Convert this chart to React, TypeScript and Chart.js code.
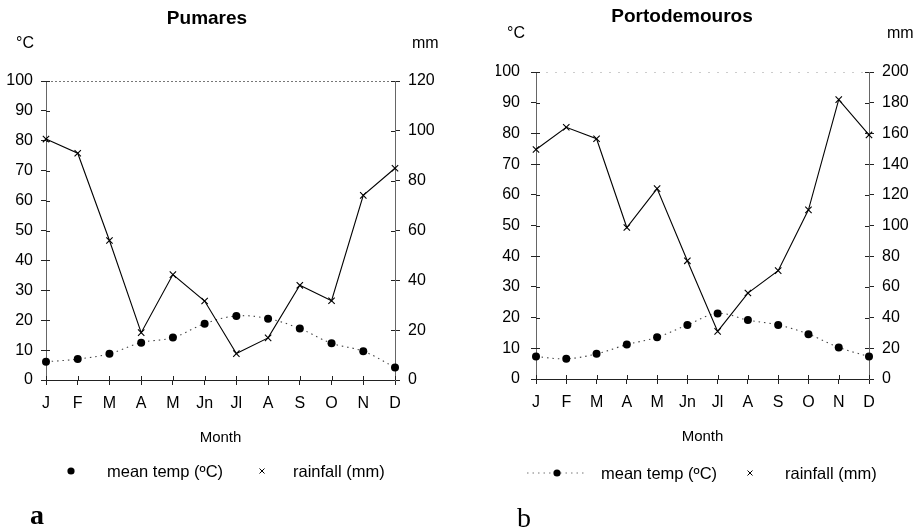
import React, { useEffect, useRef } from 'react';
import { Chart, registerables } from 'chart.js';

Chart.register(...registerables);

// ---------- DATA ----------
const months = ['J', 'F', 'M', 'A', 'M', 'Jn', 'Jl', 'A', 'S', 'O', 'N', 'D'];

const pumaresTemp = [6.1, 7.0, 8.8, 12.5, 14.2, 18.8, 21.4, 20.5, 17.2, 12.3, 9.6, 4.2];
const pumaresRain = [96.7, 91, 56, 19, 42.3, 31.7, 10.6, 16.9, 38, 31.8, 74.1, 85];

const portoTemp = [7.3, 6.6, 8.2, 11.2, 13.6, 17.6, 21.3, 19.2, 17.6, 14.6, 10.3, 7.3];
const portoRain = [149.5, 164, 156.5, 98.7, 124, 77, 31, 56, 70.6, 110.2, 182, 159];

const tempMax = 100;
const tempStep = 10;
const pumaresRainMax = 120;
const portoRainMax = 200;
const rainStep = 20;

const tempLabel = 'mean temp (ºC)';
const rainLabel = 'rainfall (mm)';

// ---------- STYLE ----------
const SANS = '"Liberation Sans", Arial, Helvetica, sans-serif';
const SERIF = '"Liberation Serif", "Times New Roman", serif';

Chart.defaults.font.family = SANS;
Chart.defaults.color = '#000';

const crossTicks = {
  id: 'crossTicks',
  afterDatasetsDraw(chart: any) {
    const ctx = chart.ctx;
    const ca = chart.chartArea;
    ctx.save();
    ctx.strokeStyle = '#222';
    ctx.lineWidth = 1;
    ['x', 'y', 'y1'].forEach((id) => {
      const s = chart.scales[id];
      if (!s) return;
      s.ticks.forEach((_t: any, i: number) => {
        const p = Math.round(s.getPixelForTick(i)) + 0.5;
        ctx.beginPath();
        if (id === 'x') {
          ctx.moveTo(p, ca.bottom);
          ctx.lineTo(p, ca.bottom - 4);
        } else if (id === 'y') {
          ctx.moveTo(ca.left, p);
          ctx.lineTo(ca.left + 4, p);
        } else {
          ctx.moveTo(ca.right, p);
          ctx.lineTo(ca.right - 4, p);
        }
        ctx.stroke();
      });
    });
    ctx.restore();
  },
};

type PanelProps = {
  offsetX: number;
  title: string;
  temp: number[];
  rain: number[];
  rainMax: number;
  pad: { left: number; right: number; top: number; bottom: number };
  leftTickPad: number;
  topLineColor: string;
  topLineDash: number[];
  ov: {
    titleX: number; titleY: number;
    degX: number; degY: number;
    mmX: number; mmY: number;
    legY: number; dotX: number; dotLine: null | [number, number];
    tempTextX: number; crossX: number; rainTextX: number;
    letter: string; letterX: number; letterTop: number; letterBold: boolean;
  };
};

function Txt({ x, y, children, center, style }: any) {
  return (
    <div
      style={{
        position: 'absolute',
        left: x,
        top: y,
        transform: center ? 'translate(-50%,-50%)' : 'translate(0,-50%)',
        whiteSpace: 'nowrap',
        lineHeight: 1,
        fontFamily: SANS,
        color: '#000',
        ...style,
      }}
    >
      {children}
    </div>
  );
}

function ClimatePanel(p: PanelProps) {
  const ref = useRef<HTMLCanvasElement>(null);

  useEffect(() => {
    const canvas = ref.current!;
    const chart = new Chart(canvas, {
      type: 'line',
      data: {
        labels: months,
        datasets: [
          {
            label: rainLabel,
            data: p.rain,
            yAxisID: 'y1',
            borderColor: '#000',
            borderWidth: 1.1,
            pointStyle: 'crossRot',
            pointRadius: 4.5,
            pointBorderWidth: 1.1,
            pointBorderColor: '#000',
            pointBackgroundColor: '#000',
            tension: 0,
            clip: false as any,
          },
          {
            label: tempLabel,
            data: p.temp,
            yAxisID: 'y',
            borderColor: '#444',
            borderWidth: 1.1,
            borderDash: [1.5, 4],
            pointStyle: 'circle',
            pointRadius: 4,
            pointBorderWidth: 0,
            pointBorderColor: '#000',
            pointBackgroundColor: '#000',
            tension: 0.4,
            clip: false as any,
          },
        ],
      },
      options: {
        animation: false,
        responsive: false,
        maintainAspectRatio: false,
        layout: { padding: p.pad },
        plugins: {
          legend: { display: false },
          title: { display: false },
          tooltip: { enabled: false },
        },
        scales: {
          x: {
            type: 'category',
            offset: false,
            grid: { drawOnChartArea: false, tickLength: 5, tickColor: '#222', offset: false },
            border: { color: '#222', width: 1 },
            ticks: {
              color: '#000',
              font: { family: SANS, size: 16 },
              padding: 9,
              autoSkip: false,
              maxRotation: 0,
            },
            title: {
              display: true,
              text: 'Month',
              color: '#000',
              font: { family: SANS, size: 15 },
              padding: { top: 0, bottom: 4 },
            },
            afterFit: (s: any) => {
              s.height = 71;
            },
          },
          y: {
            type: 'linear',
            position: 'left',
            min: 0,
            max: tempMax,
            grid: {
              drawOnChartArea: true,
              color: (c: any) => (c.tick && c.tick.value === tempMax ? p.topLineColor : 'rgba(0,0,0,0)'),
              tickLength: 5,
              tickColor: '#222',
            },
            border: { color: '#666', width: 1, dash: p.topLineDash },
            ticks: {
              stepSize: tempStep,
              color: '#000',
              font: { family: SANS, size: 16 },
              padding: p.leftTickPad,
            },
            afterFit: (s: any) => {
              s.width = 40;
            },
          },
          y1: {
            type: 'linear',
            position: 'right',
            min: 0,
            max: p.rainMax,
            grid: { drawOnChartArea: false, tickLength: 5, tickColor: '#222' },
            border: { color: '#666', width: 1 },
            ticks: {
              stepSize: rainStep,
              color: '#000',
              font: { family: SANS, size: 16 },
              padding: 8,
            },
            afterFit: (s: any) => {
              s.width = 40;
            },
          },
        },
      },
      plugins: [crossTicks],
    } as any);
    return () => chart.destroy();
  }, []);

  const o = p.ov;
  return (
    <div style={{ position: 'absolute', left: p.offsetX, top: 0, width: 460, height: 529 }}>
      <canvas
        ref={ref}
        width={460}
        height={529}
        style={{ position: 'absolute', left: 0, top: 0, width: 460, height: 529 }}
      />
      <Txt x={o.titleX} y={o.titleY} center style={{ fontWeight: 'bold', fontSize: 19 }}>
        {p.title}
      </Txt>
      <Txt x={o.degX} y={o.degY} style={{ fontSize: 16 }}>°C</Txt>
      <Txt x={o.mmX} y={o.mmY} style={{ fontSize: 16 }}>mm</Txt>

      {o.dotLine && (
        <svg
          width={o.dotLine[1] - o.dotLine[0]}
          height={4}
          style={{ position: 'absolute', left: o.dotLine[0], top: o.legY - 2 }}
        >
          <line
            x1={0}
            y1={2}
            x2={o.dotLine[1] - o.dotLine[0]}
            y2={2}
            stroke="#777"
            strokeWidth={1}
            strokeDasharray="1.5 4"
          />
        </svg>
      )}
      <svg width={10} height={10} style={{ position: 'absolute', left: o.dotX - 5, top: o.legY - 5 }}>
        <circle cx={5} cy={5} r={3.6} fill="#000" />
      </svg>
      <Txt x={o.tempTextX} y={o.legY} style={{ fontSize: 16.5 }}>{tempLabel}</Txt>
      <svg width={8} height={8} style={{ position: 'absolute', left: o.crossX - 4, top: o.legY - 4 }}>
        <line x1={1.5} y1={1.5} x2={6.5} y2={6.5} stroke="#000" strokeWidth={1} />
        <line x1={6.5} y1={1.5} x2={1.5} y2={6.5} stroke="#000" strokeWidth={1} />
      </svg>
      <Txt x={o.rainTextX} y={o.legY} style={{ fontSize: 16.5 }}>{rainLabel}</Txt>

      <div
        style={{
          position: 'absolute',
          left: o.letterX,
          top: o.letterTop,
          fontFamily: SERIF,
          fontSize: 28,
          lineHeight: 1,
          fontWeight: o.letterBold ? 'bold' : 'normal',
          color: '#000',
        }}
      >
        {o.letter}
      </div>
    </div>
  );
}

export default function App() {
  return (
    <div
      style={{
        position: 'absolute',
        left: 0,
        top: 0,
        width: 920,
        height: 529,
        background: '#fff',
        overflow: 'hidden',
      }}
    >
      <ClimatePanel
        offsetX={0}
        title="Pumares"
        temp={pumaresTemp}
        rain={pumaresRain}
        rainMax={pumaresRainMax}
        pad={{ left: 6, right: 25, top: 81, bottom: 78 }}
        leftTickPad={8}
        topLineColor="#777"
        topLineDash={[2, 2]}
        ov={{
          titleX: 207,
          titleY: 17,
          degX: 16,
          degY: 43,
          mmX: 412,
          mmY: 43,
          legY: 471,
          dotX: 71,
          dotLine: null,
          tempTextX: 107,
          crossX: 262,
          rainTextX: 293,
          letter: 'a',
          letterX: 30,
          letterTop: 501,
          letterBold: true,
        }}
      />
      <ClimatePanel
        offsetX={460}
        title="Portodemouros"
        temp={portoTemp}
        rain={portoRain}
        rainMax={portoRainMax}
        pad={{ left: 36, right: 11, top: 72, bottom: 79 }}
        leftTickPad={11}
        topLineColor="#ccc"
        topLineDash={[2, 7]}
        ov={{
          titleX: 222,
          titleY: 15,
          degX: 47,
          degY: 33,
          mmX: 427,
          mmY: 33,
          legY: 473,
          dotX: 97,
          dotLine: [67, 127],
          tempTextX: 141,
          crossX: 290,
          rainTextX: 325,
          letter: 'b',
          letterX: 57,
          letterTop: 504,
          letterBold: false,
        }}
      />
    </div>
  );
}
